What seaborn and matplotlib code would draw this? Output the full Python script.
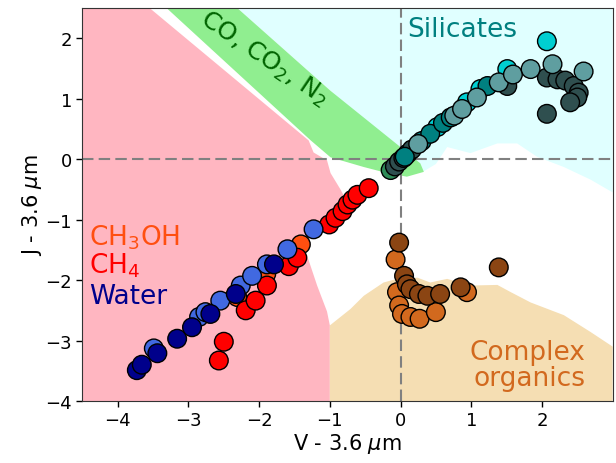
import numpy as np
import pandas as pd
import matplotlib
matplotlib.use("Agg")
import matplotlib.pyplot as plt
import seaborn as sns

# ---- colour-colour points (V-3.6um, J-3.6um) per ice / dust class ----
ch3oh_x = [-2.31, -1.90, -1.41]
ch3oh_y = [-2.28, -1.90, -1.41]

ch4_x = [-2.57, -2.50, -2.19, -2.05, -1.89, -1.58, -1.46, -1.01, -0.92, -0.82, -0.75,
         -0.68, -0.61, -0.45]
ch4_y = [-3.33, -3.02, -2.50, -2.34, -2.09, -1.77, -1.63, -1.08, -0.97, -0.86, -0.75,
         -0.67, -0.59, -0.48]

water_light_x = [-3.49, -2.85, -2.76, -2.55, -2.26, -2.10, -1.89, -1.60, -1.23]
water_light_y = [-3.13, -2.61, -2.53, -2.34, -2.09, -1.93, -1.74, -1.49, -1.16]

water_dark_x = [-3.73, -3.66, -3.44, -3.16, -2.95, -2.69, -2.33, -1.79]
water_dark_y = [-3.49, -3.40, -3.21, -2.97, -2.78, -2.56, -2.23, -1.74]

sil_green_x = [-0.14]
sil_green_y = [-0.18]

sil_slate_x = [-0.08, -0.02, 0.04, 0.10, 0.16, 1.51, 2.07, 2.22, 2.33, 2.45, 2.52, 2.50,
               2.40, 2.07]
sil_slate_y = [-0.12, -0.04, 0.02, 0.09, 0.16, 1.21, 1.35, 1.32, 1.30, 1.21, 1.10, 1.02,
               0.94, 0.75]

sil_cyan_x = [0.52, 0.94, 1.13, 1.51, 2.07]
sil_cyan_y = [0.53, 0.94, 1.16, 1.49, 1.95]

sil_teal_x = [0.06, 0.30, 0.42, 0.60, 0.71, 1.23]
sil_teal_y = [0.04, 0.30, 0.42, 0.60, 0.69, 1.21]

sil_grey_x = [0.25, 0.76, 0.87, 1.08, 1.39, 1.59, 1.84, 2.15, 2.59]
sil_grey_y = [0.25, 0.72, 0.83, 1.02, 1.27, 1.40, 1.49, 1.57, 1.45]

org_light_x = [-0.07, -0.05, -0.02, 0.02, 0.14, 0.27, 0.50, 0.94]
org_light_y = [-1.66, -2.20, -2.42, -2.56, -2.61, -2.64, -2.53, -2.20]

org_dark_x = [-0.02, 0.05, 0.09, 0.14, 0.26, 0.38, 0.56, 0.85, 1.39]
org_dark_y = [-1.38, -1.93, -2.07, -2.15, -2.23, -2.26, -2.23, -2.12, -1.79]

groups = [
    ("CH3OH", ch3oh_x, ch3oh_y, "#ff4f10"),
    ("CH4", ch4_x, ch4_y, "#ff0000"),
    ("Water (warm)", water_light_x, water_light_y, "#4169e1"),
    ("Water (cold)", water_dark_x, water_dark_y, "#00008b"),
    ("Silicate a", sil_green_x, sil_green_y, "#2e8b57"),
    ("Silicate b", sil_slate_x, sil_slate_y, "#2f4f4f"),
    ("Silicate c", sil_cyan_x, sil_cyan_y, "#00ced1"),
    ("Silicate d", sil_teal_x, sil_teal_y, "#008080"),
    ("Silicate e", sil_grey_x, sil_grey_y, "#5f9ea0"),
    ("Organics a", org_light_x, org_light_y, "#d2691e"),
    ("Organics b", org_dark_x, org_dark_y, "#8b4513"),
]

# ---- background composition regions (polygon outlines in data units) ----
pink_x = [-4.5, -3.55, -1.30, -1.23, -1.04, -0.99, -0.85, -0.75, -1.00, -1.40, -1.32,
          -1.18, -1.04, -1.00, -1.00, -4.5]
pink_y = [2.5, 2.5, 0.31, 0.11, -0.02, -0.23, -0.50, -0.72, -1.05, -1.35, -1.60,
          -2.09, -2.52, -2.75, -4.0, -4.0]

cyan_x = [-2.31, 3.0, 3.0, 2.69, 2.31, 1.93, 1.65, 1.37, 0.99, 0.66, 0.50, 0.33, 0.0, -0.99]
cyan_y = [2.5, 2.5, -0.55, -0.34, -0.13, 0.04, 0.26, 0.26, 0.10, 0.20, -0.08, -0.20, 0.0, 1.13]

green_x = [-3.31, -2.31, -0.99, 0.02, 0.28, 0.33, 0.09, -0.19, -0.52, -0.99, -1.27]
green_y = [2.5, 2.5, 1.13, 0.18, -0.07, -0.21, -0.29, -0.23, -0.13, 0.03, 0.31]

tan_x = [-1.0, -1.0, -0.71, -0.52, -0.24, -0.05, 0.24, 0.42, 0.66, 0.99, 1.37, 1.56,
         1.84, 2.31, 2.69, 3.0, 3.0]
tan_y = [-4.0, -2.75, -2.48, -2.26, -2.04, -1.98, -1.96, -2.04, -1.98, -2.09, -2.08,
         -2.20, -2.37, -2.58, -2.86, -3.10, -4.0]

df = pd.concat(
    [pd.DataFrame({"vmag": gx, "jmag": gy, "cls": name}) for name, gx, gy, _ in groups],
    ignore_index=True,
)
palette = {name: col for name, _, _, col in groups}

fig = plt.figure(figsize=(6.16, 4.64), dpi=100)
ax = fig.add_axes([0.1338, 0.1336, 0.8607, 0.847])

ax.fill(pink_x, pink_y, color="#ffb6c1", lw=0, zorder=0)
ax.fill(cyan_x, cyan_y, color="#e0ffff", lw=0, zorder=0)
ax.fill(green_x, green_y, color="#90ee90", lw=0, zorder=0.5)
ax.fill(tan_x, tan_y, color="#f5deb3", lw=0, zorder=0)

dash = (0, (5.5, 2.5))
ax.axhline(0, color="grey", lw=1.5, ls=dash, zorder=1)
ax.axvline(0, color="grey", lw=1.5, ls=dash, zorder=1)

sns.scatterplot(data=df, x="vmag", y="jmag", hue="cls", palette=palette, s=180,
                edgecolor="black", linewidth=1.0, legend=False, ax=ax, zorder=3)

ax.text(-1.93, 1.68, r"CO, CO$_2$, N$_2$", color="#006400", fontsize=18,
        rotation=-34, ha="center", va="center", rotation_mode="anchor")
ax.text(0.1, 2.15, "Silicates", color="#008080", fontsize=19, ha="left", va="center")
ax.text(2.62, -3.41, "Complex\norganics", color="#d2691e", fontsize=19, ha="right",
        va="center", multialignment="right", linespacing=1.0)
ax.text(-4.4, -1.28, r"CH$_3$OH", color="#ff4f10", fontsize=19, ha="left", va="center")
ax.text(-4.4, -1.74, r"CH$_4$", color="#ff0000", fontsize=19, ha="left", va="center")
ax.text(-4.4, -2.26, "Water", color="#00008b", fontsize=19, ha="left", va="center")

ax.set_xlim(-4.5, 3.0)
ax.set_ylim(-4.0, 2.5)
ax.set_xticks([-4, -3, -2, -1, 0, 1, 2])
ax.set_yticks([-4, -3, -2, -1, 0, 1, 2])
ax.tick_params(labelsize=13, length=4, width=1)
ax.set_xlabel(r"V - 3.6 $\mu$m", fontsize=15, labelpad=1)
ax.set_ylabel(r"J - 3.6 $\mu$m", fontsize=15, labelpad=1)
for sp in ax.spines.values():
    sp.set_color("#333333")

fig.savefig("out.png", dpi=100)
